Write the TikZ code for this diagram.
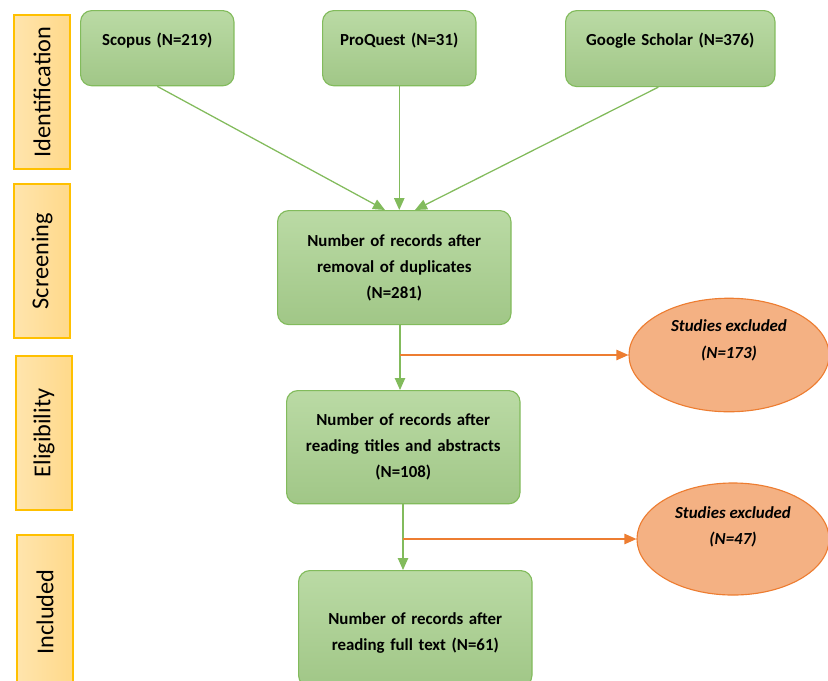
\documentclass[tikz,border=0pt]{standalone}
\usepackage{fontspec}
\setmainfont{Carlito}
\usetikzlibrary{positioning,arrows.meta,shapes.geometric}

\definecolor{boxfill}{HTML}{A9D18E}
\definecolor{boxline}{HTML}{82BB5C}
\definecolor{phasefill}{HTML}{FFD98A}
\definecolor{phaseline}{HTML}{FFC000}
\definecolor{exclfill}{HTML}{F4B183}
\definecolor{exclline}{HTML}{ED7D31}

\tikzset{
  record/.style={draw=boxline, line width=0.8pt, rounded corners=8pt,
    top color=boxfill!80!white, bottom color=boxfill!95!black!100,
    align=center, font=\fontsize{12}{18.5}\selectfont\bfseries, text width=#1},
  record/.default=5cm,
  phase/.style={draw=phaseline, line width=0.8pt, rotate=90,
    left color=phasefill!70!white, right color=phasefill,
    minimum width=3.85cm, minimum height=1.4cm, font=\LARGE},
  excluded/.style={ellipse, draw=exclline, line width=0.8pt, fill=exclfill,
    minimum width=5cm, minimum height=2.75cm, align=center,
    font=\fontsize{12}{19}\selectfont\bfseries\itshape},
  flow/.style={draw=boxline, line width=0.9pt, -{Triangle[length=3mm,width=2.6mm]}},
  drop/.style={draw=exclline, line width=0.9pt, -{Triangle[length=3mm,width=2.6mm]}}
}

\begin{document}
\begin{tikzpicture}[x=0.025cm, y=-0.025cm]
    \useasboundingbox (0,0) rectangle (828,680);

    % phases on the left
    \node[phase] (ident) at (42,92) {Identification};
    \node[phase] (screen) at (42,261) {Screening};
    \node[phase] (elig) at (44,433) {Eligibility};
    \node[phase] (incl) at (45,612) {Included};

    % sources
    \node[record=3.6cm, minimum width=3.63cm, minimum height=1.88cm, text depth=13pt, anchor=north west] (scopus) at (80,10) {Scopus (N=219)};
    \node[record=3.6cm, minimum width=3.6cm, minimum height=1.88cm, text depth=13pt, anchor=north west] (proquest) at (322,10) {ProQuest (N=31)};
    \node[record=5cm, minimum width=5cm, minimum height=1.9cm, text depth=13pt, anchor=north west] (scholar) at (565,10) {Google Scholar (N=376)};

    % records
    \node[record=5.6cm, minimum width=5.8cm, minimum height=2.85cm, anchor=north west] (dedup) at (277,210) {Number of records after\\removal of duplicates\\(N=281)};
    \node[record=5.6cm, minimum width=5.78cm, minimum height=2.83cm, anchor=north west] (titles) at (286,390) {Number of records after\\reading titles and abstracts\\(N=108)};
    \node[record=5.6cm, minimum width=5.75cm, minimum height=2.9cm, text depth=14.5pt, anchor=north west] (fulltext) at (298,570) {Number of records after\\reading full text (N=61)};

    % exclusions
    \node[excluded, text depth=23pt] (excl1) at (729,355) {Studies excluded\\(N=173)};
    \node[excluded, minimum width=4.8cm, minimum height=2.8cm, text depth=19pt] (excl2) at (733,539) {Studies excluded\\(N=47)};

    \coordinate (split1) at (400,355);
    \coordinate (split2) at (403,539);

    \draw[flow] (scopus.south) -- (385,210);
    \draw[flow] (proquest.south) -- (proquest.south |- dedup.north);
    \draw[flow] (scholar.south) ++(-12,0) -- (415,210);
    \draw[flow] (split1 |- dedup.south) -- (split1 |- titles.north);
    \draw[flow] (split2 |- titles.south) -- (split2 |- fulltext.north);
    \draw[drop] (split1) -- (excl1.west);
    \draw[drop] (split2) -- (excl2.west);
\end{tikzpicture}
\end{document}
